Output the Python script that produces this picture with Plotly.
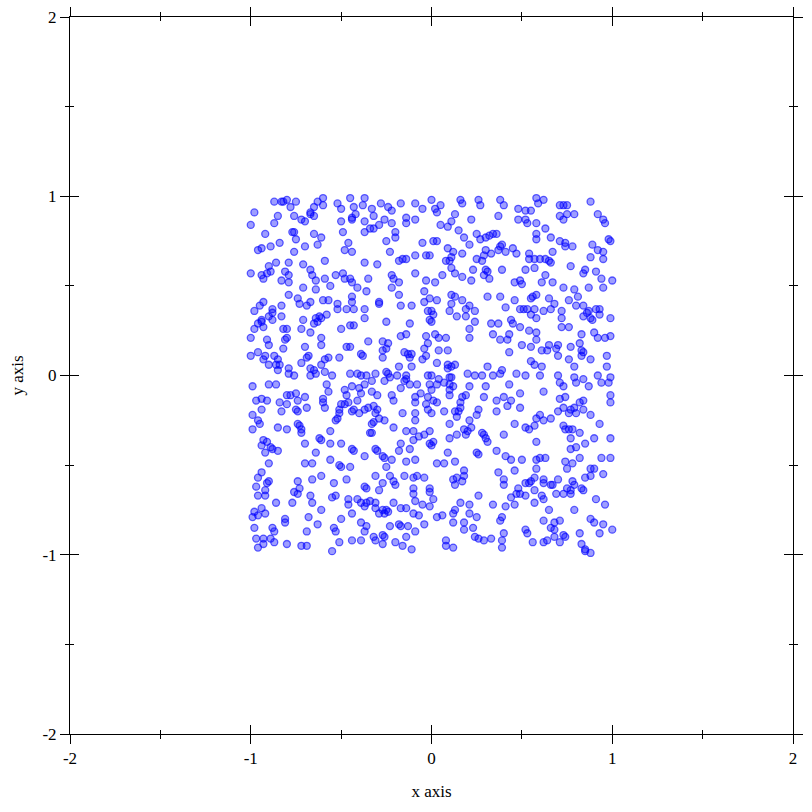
import plotly.graph_objects as go

# Point samples, grouped by region of the square
region_top_left = [(-0.87,0.97),(-0.83,0.97),(-0.82,0.97),(-0.80,0.98),(-0.78,0.94),(-0.75,0.97),(-0.60,0.99),(-0.63,0.97),(-0.60,0.95),(-0.65,0.94),(-0.67,0.91),(-0.67,0.90),(-0.65,0.89),(-0.52,0.96),(-0.50,0.93),(-0.45,0.99),(-0.43,0.94),(-0.37,0.99),(-0.38,0.95),(-0.42,0.90),(-0.44,0.88),(-0.44,0.87),(-0.37,0.86),(-0.37,0.80),(-0.98,0.91),(-1.00,0.84),(-0.85,0.89),(-0.87,0.85),(-0.76,0.89),(-0.72,0.87),(-0.70,0.86),(-0.92,0.79),(-0.77,0.80),(-0.76,0.80),(-0.75,0.76),(-0.65,0.79),(-0.61,0.77),(-0.63,0.73),(-0.70,0.72),(-0.49,0.80),(-0.50,0.86),(-0.46,0.74),(-0.48,0.70),(-0.44,0.69),(-0.84,0.74),(-0.89,0.72),(-0.94,0.71),(-0.96,0.70),(-0.76,0.69),(-0.59,0.64),(-0.71,0.62),(-0.79,0.63),(-0.86,0.63),(-0.90,0.61),(-1.00,0.57),(-0.94,0.56),(-0.93,0.54),(-0.91,0.57),(-0.89,0.58),(-0.81,0.58),(-0.79,0.56),(-0.83,0.53),(-0.79,0.52),(-0.67,0.59),(-0.66,0.56),(-0.64,0.53),(-0.59,0.54),(-0.53,0.56),(-0.49,0.57),(-0.48,0.54),(-0.45,0.54),(-0.37,0.63),(-0.35,0.54),(-0.44,0.52)]

region_top_mid = [(-0.33,0.93),(-0.32,0.89),(-0.28,0.96),(-0.24,0.94),(-0.22,0.92),(-0.17,0.96),(-0.09,0.96),(-0.05,0.93),(0.00,0.98),(0.02,0.93),(0.03,0.91),(0.05,0.95),(0.16,0.98),(0.17,0.96),(0.26,0.98),(0.27,0.95),(0.13,0.90),(0.11,0.86),(0.09,0.83),(0.05,0.84),(0.15,0.81),(0.22,0.87),(-0.32,0.82),(-0.34,0.82),(-0.29,0.84),(-0.26,0.87),(-0.22,0.85),(-0.14,0.88),(-0.14,0.85),(-0.09,0.87),(-0.20,0.80),(-0.20,0.77),(-0.25,0.75),(-0.23,0.69),(-0.05,0.74),(0.01,0.75),(0.03,0.75),(0.09,0.71),(0.12,0.69),(0.17,0.68),(0.18,0.77),(0.21,0.73),(0.25,0.79),(0.27,0.76),(0.30,0.77),(0.32,0.78),(0.34,0.79),(0.30,0.70),(0.29,0.67),(0.28,0.64),(0.33,0.68),(0.25,0.65),(0.23,0.59),(0.30,0.59),(0.31,0.58),(0.29,0.56),(0.32,0.54),(0.22,0.53),(0.17,0.55),(0.10,0.64),(0.11,0.66),(0.08,0.64),(0.11,0.60),(0.13,0.57),(0.06,0.56),(-0.03,0.67),(-0.01,0.67),(-0.09,0.67),(-0.16,0.65),(-0.18,0.64),(-0.14,0.65),(-0.30,0.62),(-0.22,0.56),(-0.21,0.54),(-0.18,0.52),(-0.09,0.57),(-0.03,0.53),(0.02,0.52)]

region_top_right = [(0.38,0.98),(0.40,0.95),(0.58,0.99),(0.62,0.98),(0.59,0.96),(0.48,0.93),(0.52,0.92),(0.55,0.92),(0.71,0.95),(0.73,0.95),(0.75,0.95),(0.88,0.97),(0.37,0.89),(0.48,0.87),(0.52,0.87),(0.53,0.85),(0.58,0.85),(0.71,0.89),(0.73,0.87),(0.75,0.90),(0.79,0.90),(0.92,0.90),(0.95,0.87),(0.96,0.85),(0.36,0.79),(0.58,0.79),(0.58,0.76),(0.63,0.82),(0.66,0.77),(0.71,0.75),(0.74,0.74),(0.74,0.72),(0.78,0.72),(0.89,0.73),(0.92,0.70),(0.95,0.69),(0.95,0.65),(0.88,0.66),(0.98,0.76),(0.99,0.75),(0.38,0.72),(0.39,0.73),(0.37,0.70),(0.41,0.69),(0.45,0.71),(0.47,0.68),(0.54,0.68),(0.54,0.65),(0.57,0.65),(0.60,0.65),(0.63,0.65),(0.65,0.64),(0.66,0.63),(0.67,0.69),(0.77,0.61),(0.52,0.59),(0.57,0.60),(0.39,0.59),(0.63,0.56),(0.85,0.59),(0.84,0.57),(0.91,0.58),(0.94,0.54),(1.00,0.53),(0.49,0.53),(0.46,0.52),(0.50,0.51),(0.61,0.52),(0.67,0.52)]

region_upper_left = [(-0.71,0.49),(-0.64,0.48),(-0.56,0.50),(-0.41,0.49),(-0.36,0.47),(-0.79,0.45),(-0.74,0.43),(-0.73,0.40),(-0.69,0.39),(-0.67,0.41),(-0.60,0.42),(-0.57,0.42),(-0.52,0.40),(-0.52,0.37),(-0.47,0.37),(-0.44,0.44),(-0.44,0.41),(-0.43,0.37),(-0.37,0.37),(-0.37,0.32),(-0.93,0.41),(-0.95,0.39),(-0.98,0.36),(-0.88,0.37),(-0.88,0.35),(-0.90,0.33),(-0.88,0.31),(-0.83,0.39),(-0.83,0.33),(-0.94,0.31),(-0.96,0.29),(-0.94,0.30),(-0.98,0.26),(-0.93,0.27),(-0.71,0.31),(-0.64,0.32),(-0.62,0.33),(-0.61,0.32),(-0.58,0.34),(-0.63,0.30),(-0.65,0.29),(-0.72,0.26),(-0.67,0.24),(-0.82,0.26),(-0.80,0.26),(-0.80,0.21),(-0.81,0.20),(-0.91,0.20),(-0.90,0.17),(-1.00,0.21),(-0.61,0.21),(-0.61,0.17),(-0.50,0.26),(-0.45,0.28),(-0.43,0.28),(-0.47,0.16),(-0.45,0.16),(-0.35,0.19),(-0.70,0.16),(-0.82,0.15),(-1.00,0.11),(-0.96,0.13),(-0.93,0.09),(-0.92,0.11),(-0.87,0.11),(-0.90,0.06),(-0.86,0.06),(-0.85,0.03),(-0.84,0.06),(-0.85,0.09),(-0.68,0.11),(-0.69,0.10),(-0.57,0.10),(-0.59,0.09),(-0.51,0.10),(-0.39,0.12),(-0.38,0.11),(-0.72,0.07),(-0.67,0.04),(-0.65,0.03),(-0.64,0.01),(-0.61,0.06),(-0.59,0.02),(-0.67,0.00),(-0.79,0.04),(-0.79,0.01),(-0.76,0.00),(-0.55,0.00),(-0.45,0.01),(-0.41,0.01),(-0.39,0.00),(-0.36,0.00)]

region_upper_mid = [(-0.22,0.49),(-0.18,0.45),(-0.04,0.47),(0.11,0.45),(0.13,0.44),(0.31,0.44),(-0.29,0.41),(-0.29,0.40),(-0.17,0.39),(-0.11,0.39),(-0.04,0.41),(-0.01,0.43),(0.03,0.42),(0.11,0.40),(0.17,0.42),(0.19,0.37),(0.21,0.39),(0.24,0.36),(0.10,0.36),(0.14,0.33),(0.19,0.33),(-0.02,0.36),(0.00,0.36),(0.01,0.34),(-0.01,0.31),(0.00,0.30),(-0.25,0.30),(-0.12,0.29),(0.24,0.30),(0.21,0.26),(0.21,0.21),(0.33,0.29),(0.34,0.23),(-0.17,0.22),(-0.14,0.23),(-0.03,0.22),(0.02,0.23),(0.04,0.21),(0.08,0.21),(-0.27,0.19),(-0.24,0.18),(-0.25,0.15),(-0.27,0.14),(-0.02,0.18),(-0.04,0.15),(0.04,0.14),(0.09,0.14),(-0.03,0.11),(-0.05,0.09),(-0.15,0.13),(-0.13,0.12),(-0.11,0.12),(-0.12,0.10),(-0.27,0.10),(0.03,0.07),(0.09,0.06),(0.13,0.06),(0.11,0.05),(0.09,0.04),(0.31,0.05),(-0.18,0.05),(-0.11,0.05),(-0.31,0.01),(-0.25,0.02),(-0.24,0.01),(-0.23,-0.01),(-0.19,0.00),(-0.14,0.00),(-0.14,-0.02),(-0.02,0.00),(0.00,0.00),(0.04,-0.02),(0.10,-0.01),(0.11,-0.01),(0.20,0.01),(0.24,0.00),(0.28,0.00),(0.34,0.00)]

region_upper_right = [(0.73,0.49),(0.79,0.48),(0.87,0.49),(0.95,0.49),(0.38,0.44),(0.46,0.42),(0.55,0.43),(0.56,0.44),(0.58,0.45),(0.65,0.43),(0.68,0.40),(0.66,0.37),(0.76,0.42),(0.81,0.44),(0.80,0.39),(0.84,0.39),(0.87,0.36),(0.86,0.35),(0.84,0.33),(0.88,0.32),(0.89,0.31),(0.91,0.37),(0.93,0.37),(0.93,0.34),(0.99,0.32),(0.41,0.38),(0.49,0.37),(0.51,0.37),(0.53,0.37),(0.57,0.37),(0.62,0.36),(0.55,0.34),(0.58,0.32),(0.72,0.36),(0.72,0.32),(0.72,0.27),(0.76,0.27),(0.44,0.31),(0.45,0.29),(0.37,0.29),(0.49,0.27),(0.43,0.23),(0.42,0.20),(0.38,0.20),(0.43,0.13),(0.54,0.25),(0.58,0.24),(0.58,0.20),(0.83,0.23),(0.90,0.24),(0.92,0.21),(0.96,0.21),(0.99,0.22),(0.55,0.16),(0.50,0.17),(0.65,0.17),(0.69,0.15),(0.70,0.17),(0.77,0.16),(0.82,0.18),(0.83,0.14),(0.84,0.13),(0.83,0.11),(0.88,0.09),(0.61,0.14),(0.64,0.14),(0.70,0.11),(0.76,0.09),(0.79,0.05),(0.55,0.08),(0.57,0.06),(0.61,0.05),(0.97,0.11),(0.97,0.05),(0.39,0.03),(0.38,0.01),(0.47,0.01),(0.52,0.00),(0.60,0.00),(0.70,0.00),(0.79,-0.01),(0.84,-0.02),(0.92,0.00),(0.99,-0.01)]

region_lower_left = [(-0.99,-0.06),(-0.90,-0.05),(-0.86,-0.05),(-0.58,-0.05),(-0.57,-0.09),(-0.48,-0.08),(-0.44,-0.06),(-0.40,-0.07),(-0.37,-0.05),(-0.39,-0.10),(-0.47,-0.11),(-0.97,-0.14),(-0.94,-0.13),(-0.91,-0.14),(-0.84,-0.15),(-0.80,-0.11),(-0.78,-0.11),(-0.75,-0.10),(-0.80,-0.16),(-0.74,-0.14),(-0.70,-0.12),(-0.69,-0.18),(-0.75,-0.19),(-0.74,-0.20),(-0.83,-0.20),(-0.60,-0.13),(-0.60,-0.15),(-0.59,-0.18),(-0.50,-0.16),(-0.48,-0.16),(-0.51,-0.19),(-0.46,-0.15),(-0.41,-0.14),(-0.44,-0.20),(-0.43,-0.19),(-0.40,-0.21),(-0.37,-0.19),(-0.35,-0.18),(-0.99,-0.22),(-0.94,-0.19),(-0.96,-0.25),(-0.95,-0.27),(-0.85,-0.29),(-0.80,-0.30),(-0.99,-0.30),(-0.74,-0.27),(-0.73,-0.28),(-0.72,-0.30),(-0.72,-0.32),(-0.53,-0.25),(-0.52,-0.24),(-0.51,-0.21),(-0.56,-0.31),(-0.61,-0.36),(-0.62,-0.35),(-0.56,-0.38),(-0.50,-0.38),(-0.44,-0.41),(-0.43,-0.42),(-0.37,-0.45),(-0.34,-0.32),(-0.93,-0.36),(-0.91,-0.37),(-0.94,-0.39),(-0.89,-0.40),(-0.88,-0.41),(-0.92,-0.43),(-0.85,-0.42),(-0.70,-0.38),(-0.64,-0.43),(-0.56,-0.47),(-0.51,-0.50),(-0.50,-0.51),(-0.45,-0.51),(-0.70,-0.49),(-0.66,-0.49),(-0.90,-0.49)]

region_lower_mid = [(-0.33,-0.03),(-0.26,-0.03),(-0.15,-0.03),(-0.12,-0.05),(-0.08,-0.05),(-0.01,-0.05),(0.03,-0.05),(0.07,-0.04),(0.10,-0.05),(0.12,-0.06),(0.21,-0.06),(0.30,-0.06),(-0.33,-0.09),(-0.30,-0.11),(-0.22,-0.11),(-0.21,-0.14),(-0.17,-0.07),(-0.09,-0.12),(-0.09,-0.15),(-0.06,-0.10),(-0.02,-0.12),(0.01,-0.14),(0.00,-0.08),(0.03,-0.15),(0.10,-0.11),(0.10,-0.08),(0.17,-0.12),(0.19,-0.11),(0.16,-0.15),(0.16,-0.18),(0.29,-0.12),(0.26,-0.19),(0.25,-0.22),(-0.32,-0.17),(-0.30,-0.19),(-0.31,-0.21),(-0.29,-0.24),(-0.32,-0.26),(-0.33,-0.27),(-0.26,-0.25),(-0.21,-0.29),(-0.16,-0.21),(-0.09,-0.21),(-0.09,-0.25),(-0.03,-0.16),(-0.02,-0.19),(0.00,-0.21),(0.07,-0.20),(0.13,-0.20),(0.15,-0.20),(0.14,-0.23),(0.10,-0.27),(0.21,-0.25),(0.18,-0.30),(0.20,-0.31),(0.22,-0.29),(-0.33,-0.32),(-0.14,-0.31),(-0.10,-0.31),(-0.10,-0.36),(-0.07,-0.34),(-0.04,-0.33),(-0.01,-0.31),(0.19,-0.33),(0.28,-0.32),(0.29,-0.33),(0.30,-0.35),(0.31,-0.37),(0.10,-0.35),(0.14,-0.33),(-0.17,-0.38),(-0.18,-0.42),(-0.12,-0.41),(-0.01,-0.38),(0.01,-0.37),(0.00,-0.39),(-0.31,-0.41),(-0.30,-0.42),(-0.27,-0.45),(-0.26,-0.46),(-0.22,-0.47),(0.09,-0.43),(0.25,-0.43),(0.26,-0.44),(-0.14,-0.48),(-0.09,-0.47),(0.03,-0.49),(0.07,-0.49),(0.13,-0.48),(-0.25,-0.51),(0.18,-0.53)]

region_lower_right = [(0.43,-0.05),(0.71,-0.04),(0.73,-0.06),(0.80,-0.04),(0.87,-0.06),(0.94,-0.04),(0.98,-0.04),(0.62,-0.09),(0.40,-0.12),(0.44,-0.14),(0.49,-0.10),(0.71,-0.13),(0.74,-0.12),(0.99,-0.11),(0.99,-0.15),(0.36,-0.14),(0.42,-0.17),(0.49,-0.18),(0.36,-0.20),(0.70,-0.20),(0.73,-0.18),(0.77,-0.19),(0.76,-0.21),(0.79,-0.18),(0.80,-0.21),(0.82,-0.15),(0.84,-0.14),(0.84,-0.19),(0.88,-0.22),(0.60,-0.22),(0.58,-0.24),(0.62,-0.25),(0.66,-0.24),(0.46,-0.27),(0.52,-0.29),(0.54,-0.30),(0.57,-0.28),(0.73,-0.28),(0.74,-0.30),(0.76,-0.30),(0.78,-0.30),(0.82,-0.32),(0.93,-0.27),(0.40,-0.33),(0.77,-0.35),(0.85,-0.38),(0.90,-0.35),(0.99,-0.35),(0.58,-0.37),(0.77,-0.41),(0.80,-0.40),(0.36,-0.42),(0.41,-0.45),(0.44,-0.47),(0.50,-0.47),(0.58,-0.47),(0.60,-0.46),(0.63,-0.46),(0.82,-0.46),(0.94,-0.46),(0.99,-0.46),(0.74,-0.48),(0.78,-0.49),(0.46,-0.53),(0.58,-0.52),(0.75,-0.52),(0.88,-0.52),(0.90,-0.52)]

region_bottom_left = [(-0.94,-0.54),(-0.96,-0.57),(-0.91,-0.60),(-0.90,-0.59),(-0.97,-0.62),(-0.96,-0.67),(-0.92,-0.64),(-0.92,-0.67),(-0.74,-0.59),(-0.76,-0.65),(-0.74,-0.66),(-0.73,-0.63),(-0.66,-0.58),(-0.61,-0.56),(-0.54,-0.60),(-0.47,-0.58),(-0.37,-0.62),(-0.36,-0.63),(-0.86,-0.71),(-0.77,-0.71),(-0.67,-0.67),(-0.66,-0.71),(-0.55,-0.68),(-0.53,-0.67),(-0.46,-0.69),(-0.46,-0.72),(-0.41,-0.69),(-0.39,-0.71),(-0.36,-0.71),(-0.37,-0.73),(-0.34,-0.70),(-0.98,-0.76),(-0.99,-0.79),(-0.96,-0.78),(-0.94,-0.74),(-0.92,-0.77),(-0.81,-0.80),(-0.81,-0.82),(-0.68,-0.79),(-0.63,-0.83),(-0.61,-0.75),(-0.50,-0.80),(-0.44,-0.77),(-0.39,-0.82),(-0.36,-0.84),(-0.37,-0.87),(-0.98,-0.85),(-0.88,-0.85),(-0.87,-0.87),(-0.69,-0.87),(-0.54,-0.85),(-0.53,-0.87),(-0.97,-0.91),(-0.93,-0.91),(-0.89,-0.91),(-0.87,-0.93),(-0.93,-0.94),(-0.96,-0.96),(-0.80,-0.94),(-0.72,-0.95),(-0.69,-0.95),(-0.55,-0.98),(-0.51,-0.93),(-0.44,-0.92),(-0.39,-0.92)]

region_bottom_mid = [(-0.31,-0.56),(-0.23,-0.56),(-0.27,-0.60),(-0.21,-0.59),(-0.20,-0.61),(-0.29,-0.64),(-0.15,-0.56),(-0.10,-0.57),(-0.08,-0.56),(-0.04,-0.57),(-0.10,-0.63),(-0.10,-0.66),(-0.09,-0.70),(-0.01,-0.63),(-0.01,-0.65),(0.01,-0.69),(-0.31,-0.71),(-0.31,-0.74),(-0.27,-0.75),(-0.25,-0.75),(-0.29,-0.77),(-0.26,-0.77),(-0.24,-0.76),(-0.21,-0.71),(-0.17,-0.74),(-0.14,-0.74),(-0.10,-0.77),(-0.07,-0.78),(-0.05,-0.72),(-0.01,-0.73),(-0.04,-0.83),(0.03,-0.79),(0.06,-0.78),(0.12,-0.58),(0.13,-0.61),(0.14,-0.57),(0.18,-0.56),(0.17,-0.59),(0.12,-0.77),(0.13,-0.75),(0.16,-0.71),(0.21,-0.72),(0.21,-0.77),(0.25,-0.79),(0.26,-0.67),(0.34,-0.72),(0.12,-0.82),(0.18,-0.82),(0.18,-0.86),(0.23,-0.85),(0.24,-0.90),(0.26,-0.91),(0.29,-0.92),(0.33,-0.91),(-0.23,-0.84),(-0.18,-0.83),(-0.17,-0.84),(-0.13,-0.84),(-0.09,-0.87),(-0.14,-0.90),(-0.27,-0.89),(-0.26,-0.90),(-0.32,-0.90),(-0.31,-0.92),(-0.27,-0.94),(-0.20,-0.93),(-0.16,-0.95),(-0.11,-0.97),(0.08,-0.92),(0.08,-0.95),(0.12,-0.96)]

region_bottom_right = [(0.37,-0.54),(0.88,-0.56),(0.95,-0.55),(0.40,-0.58),(0.40,-0.61),(0.57,-0.57),(0.55,-0.59),(0.52,-0.60),(0.54,-0.60),(0.62,-0.58),(0.62,-0.60),(0.66,-0.61),(0.67,-0.61),(0.70,-0.58),(0.78,-0.59),(0.79,-0.61),(0.75,-0.63),(0.77,-0.64),(0.83,-0.63),(0.84,-0.64),(0.85,-0.57),(0.48,-0.63),(0.47,-0.66),(0.49,-0.66),(0.52,-0.67),(0.44,-0.68),(0.57,-0.64),(0.61,-0.67),(0.62,-0.69),(0.57,-0.71),(0.69,-0.66),(0.73,-0.66),(0.77,-0.66),(0.91,-0.69),(0.96,-0.72),(0.41,-0.73),(0.46,-0.72),(0.65,-0.75),(0.79,-0.75),(0.38,-0.81),(0.39,-0.79),(0.62,-0.81),(0.68,-0.82),(0.71,-0.81),(0.66,-0.85),(0.68,-0.86),(0.52,-0.86),(0.53,-0.88),(0.40,-0.88),(0.82,-0.88),(0.88,-0.80),(0.90,-0.82),(0.95,-0.83),(1.00,-0.86),(0.93,-0.88),(0.68,-0.90),(0.73,-0.89),(0.74,-0.90),(0.39,-0.92),(0.39,-0.96),(0.56,-0.93),(0.62,-0.93),(0.64,-0.92),(0.71,-0.93),(0.83,-0.94),(0.85,-0.97),(0.85,-0.98),(0.88,-0.99)]

regions = [region_top_left, region_top_mid, region_top_right,
           region_upper_left, region_upper_mid, region_upper_right,
           region_lower_left, region_lower_mid, region_lower_right,
           region_bottom_left, region_bottom_mid, region_bottom_right]

x_values = [p[0] for r in regions for p in r]
y_values = [p[1] for r in regions for p in r]

tick_values = [-2, -1, 0, 1, 2]
tick_labels = ["-2", "-1", "0", "1", "2"]
minor_tick_values = [-1.5, -0.5, 0.5, 1.5]
axis_range = [-2, 2]

font = dict(family="Liberation Serif, DejaVu Serif, serif", size=17, color="black")

fig = go.Figure()
fig.add_trace(go.Scatter(
    x=x_values, y=y_values, mode="markers", showlegend=False, hoverinfo="skip",
    marker=dict(size=7, color="rgba(0,0,255,0.38)",
                line=dict(color="rgba(0,0,255,0.6)", width=1.3)),
))
# empty trace so that the overlaid (inside-tick) axes get drawn
fig.add_trace(go.Scatter(x=[], y=[], xaxis="x2", yaxis="y2", mode="markers",
                         showlegend=False, hoverinfo="skip"))

def main_axis(title, standoff):
    return dict(
        range=axis_range, tickmode="array", tickvals=tick_values, ticktext=tick_labels,
        showgrid=False, zeroline=False, showline=True, linecolor="black", linewidth=1,
        mirror="ticks", ticks="outside", ticklen=9, tickwidth=1, tickcolor="black",
        tickfont=font, automargin=False, fixedrange=True,
        minor=dict(tickmode="array", tickvals=minor_tick_values, ticks="outside",
                   ticklen=4, tickwidth=1, tickcolor="black", showgrid=False),
        title=dict(text=title, font=font, standoff=standoff),
    )

def inner_axis(overlay, anchor):
    return dict(
        range=axis_range, tickmode="array", tickvals=tick_values,
        showgrid=False, zeroline=False, showline=False, showticklabels=False,
        overlaying=overlay, anchor=anchor, mirror="ticks",
        ticks="inside", ticklen=9, tickwidth=1, tickcolor="black",
        automargin=False, fixedrange=True,
        minor=dict(tickmode="array", tickvals=minor_tick_values, ticks="inside",
                   ticklen=4, tickwidth=1, tickcolor="black", showgrid=False),
    )

fig.update_layout(
    width=812, height=812,
    margin=dict(l=70, r=19, t=17, b=78, pad=0),
    paper_bgcolor="white", plot_bgcolor="white",
    xaxis=main_axis("x axis", 17),
    yaxis=main_axis("y axis", 14),
    xaxis2=inner_axis("x", "y2"),
    yaxis2=inner_axis("y", "x2"),
)

fig.write_html("out.html", config={"displayModeBar": False},
               post_script="document.body.style.margin='0';document.body.style.overflow='hidden';")
